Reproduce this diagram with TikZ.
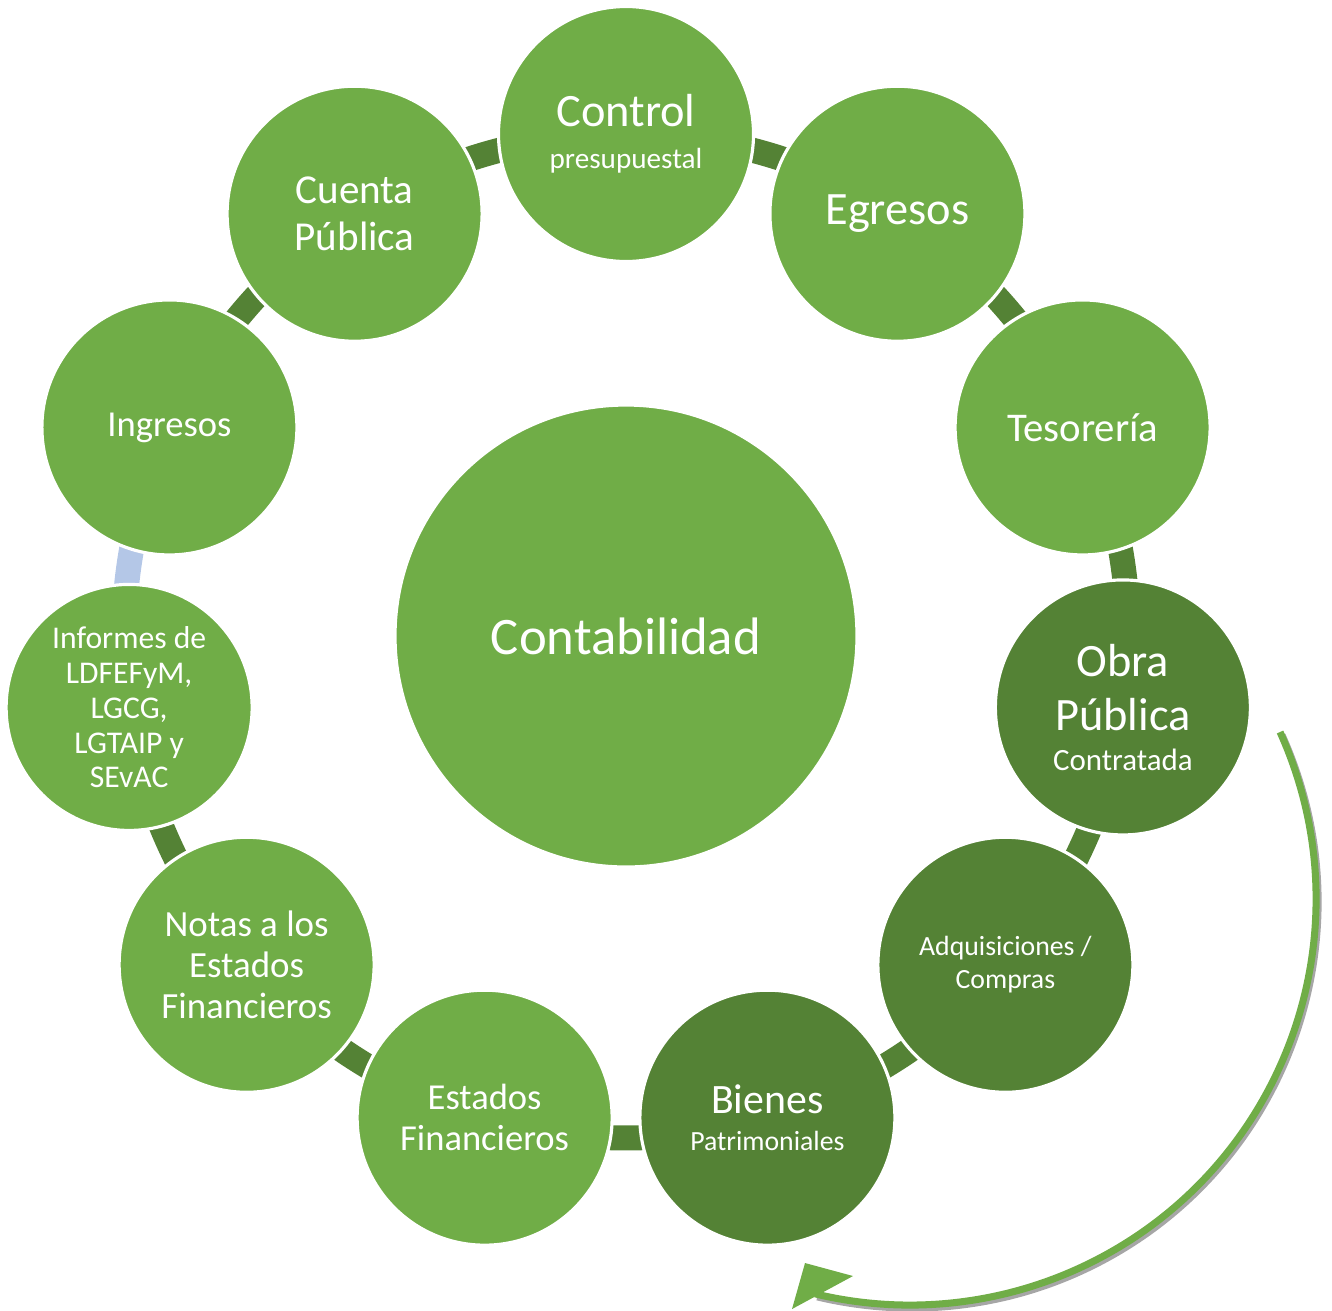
\documentclass[tikz,border=0pt]{standalone}
\usepackage{fontspec}
\setmainfont{Carlito}
\usepackage{tikz}
\usetikzlibrary{backgrounds}
\definecolor{lightgreen}{HTML}{70AD47}
\definecolor{darkgreen}{HTML}{548235}
\definecolor{lightblue}{HTML}{B4C7E7}
\colorlet{shadowgray}{black!35!white}

\tikzset{
  ringnode/.style={circle, fill=lightgreen, draw=white, line width=0.9pt,
    minimum size=2.55cm, inner sep=0pt, text=white, align=center},
  darknode/.style={ringnode, fill=darkgreen},
  link/.style={line width=0.25cm, draw=darkgreen, bend left=16.4, looseness=0.87},
  arrowline/.style={line width=2pt, draw=lightgreen}
}

\begin{document}
\begin{tikzpicture}
      \useasboundingbox (0,0) rectangle (13.32,-13.10);

      \node[ringnode, minimum size=4.62cm, font=\fontsize{15}{18}\selectfont] (conta) at (6.26,-6.36) {Contabilidad};

      \begin{scope}[shift={(6.26,-6.36)}]
      \node[ringnode] (control) at (90:5.02) {{\fontsize{13.2}{15}\selectfont Control}\\[0pt]{\fontsize{8.3}{10}\selectfont presupuestal}};
      \node[ringnode, font=\fontsize{13.2}{15}\selectfont] (egresos) at (57.27:5.02) {Egresos};
      \node[ringnode, font=\fontsize{11.6}{14}\selectfont] (tesoreria) at (24.55:5.02) {Tesorería};
      \node[darknode, font=\fontsize{13.2}{15.4}\selectfont] (obra) at (-8.18:5.02) {Obra\\Pública\\[-4.3pt]{\fontsize{8.8}{10}\selectfont Contratada}};
      \node[darknode, font=\fontsize{7.9}{9.4}\selectfont] (adquisiciones) at (-40.91:5.02) {Adquisiciones /\\Compras};
      \node[darknode] (bienes) at (-73.64:5.02) {{\fontsize{11.9}{14}\selectfont Bienes}\\[-1.5pt]{\fontsize{7.9}{9}\selectfont Patrimoniales}};
      \node[ringnode, font=\fontsize{10.4}{11.7}\selectfont] (estados) at (-106.36:5.02) {Estados\\Financieros};
      \node[ringnode, font=\fontsize{10.5}{11.7}\selectfont] (notas) at (-139.09:5.02) {Notas a los\\Estados\\Financieros};
      \node[ringnode, minimum size=2.46cm, font=\fontsize{9}{9.9}\selectfont] (informes) at (-171.82:5.02) {Informes de\\LDFEFyM,\\LGCG,\\LGTAIP y\\SEvAC};
      \node[ringnode, font=\fontsize{10.4}{12}\selectfont] (ingresos) at (155.45:5.02) {Ingresos};
      \node[ringnode, font=\fontsize{11.7}{13.4}\selectfont] (cuenta) at (122.73:5.02) {Cuenta\\Pública};
      \end{scope}

      \begin{scope}[on background layer]
      \draw[link] (control.center) to (egresos.center);
      \draw[link] (egresos.center) to (tesoreria.center);
      \draw[link] (tesoreria.center) to (obra.center);
      \draw[link] (obra.center) to (adquisiciones.center);
      \draw[link] (adquisiciones.center) to (bienes.center);
      \draw[link] (bienes.center) to (estados.center);
      \draw[link] (estados.center) to (notas.center);
      \draw[link] (notas.center) to (informes.center);
      \draw[link, draw=lightblue] (informes.center) to (ingresos.center);
      \draw[link] (ingresos.center) to (cuenta.center);
      \draw[link] (cuenta.center) to (control.center);
      \end{scope}

      \draw[arrowline, draw=shadowgray] (12.82,-7.35) arc[start angle=24.3, end angle=-103.5, radius=4.06];
      \draw[arrowline] (12.80,-7.32) arc[start angle=24.3, end angle=-103.5, radius=4.06];
      \fill[lightgreen] (7.92,-13.09) -- (8.05,-12.63) -- (8.53,-12.76) -- cycle;

    \end{tikzpicture}
\end{document}
